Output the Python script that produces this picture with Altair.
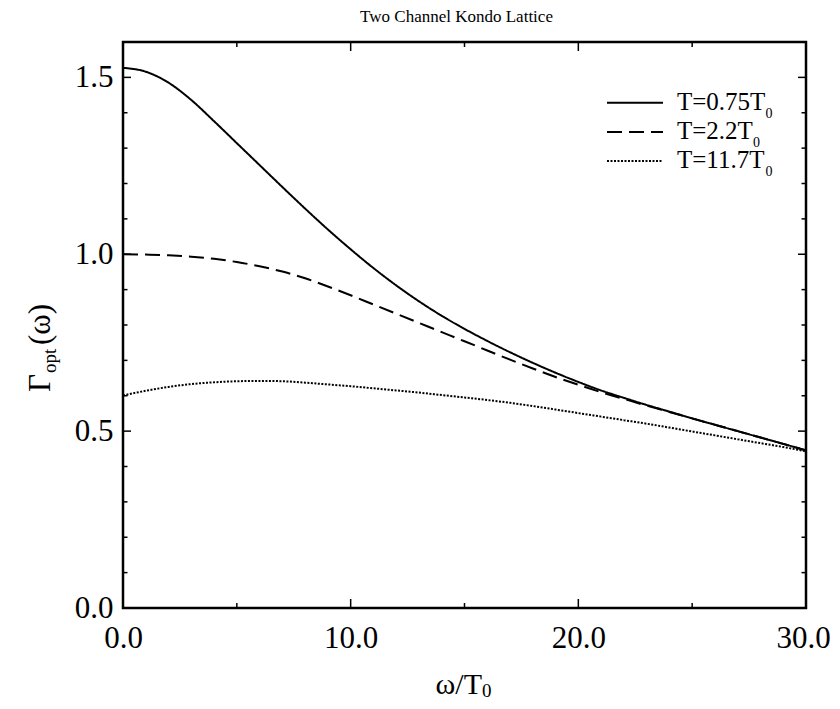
import altair as alt
import pandas as pd

# ---------------- data ----------------
omega = list(range(0, 31))
gamma_T075 = [1.527, 1.516, 1.485, 1.436, 1.376, 1.314, 1.252, 1.190, 1.129, 1.070,
              1.014, 0.961, 0.912, 0.867, 0.826, 0.789, 0.755, 0.723, 0.693, 0.665,
              0.639, 0.615, 0.594, 0.574, 0.555, 0.536, 0.518, 0.500, 0.482, 0.464, 0.446]
gamma_T22 = [1.000, 0.999, 0.997, 0.993, 0.987, 0.978, 0.966, 0.951, 0.932, 0.909,
             0.884, 0.858, 0.832, 0.806, 0.780, 0.754, 0.728, 0.702, 0.677, 0.653,
             0.631, 0.610, 0.591, 0.572, 0.554, 0.536, 0.518, 0.500, 0.482, 0.464, 0.445]
gamma_T117 = [0.601, 0.614, 0.625, 0.633, 0.638, 0.641, 0.642, 0.641, 0.637, 0.632,
              0.627, 0.621, 0.615, 0.609, 0.602, 0.595, 0.588, 0.580, 0.571, 0.561,
              0.551, 0.541, 0.531, 0.521, 0.510, 0.499, 0.488, 0.477, 0.466, 0.455, 0.443]
temps = ["0.75", "2.2", "11.7"]

x_major = [0, 10, 20, 30]
x_minor = [5, 15, 25]
y_major = [0.0, 0.5, 1.0, 1.5]
y_minor = [0.1, 0.2, 0.3, 0.4, 0.6, 0.7, 0.8, 0.9, 1.1, 1.2, 1.3, 1.4]

title_text = "Two Channel Kondo Lattice"

# ---------------- layout / style ----------------
W, H = 683, 566
FONT = "Liberation Serif"
dash_range = [[1, 0], [15, 7], [2, 1.5]]

rows = []
for t, gs in zip(temps, [gamma_T075, gamma_T22, gamma_T117]):
    for w, g in zip(omega, gs):
        rows.append({"w": w, "g": g, "T": t})
df = pd.DataFrame(rows)

xs = alt.Scale(domain=[0, 30], nice=False, zero=False)
ys = alt.Scale(domain=[0, 1.6], nice=False, zero=False)

ax_common = dict(format=".1f", ticks=False, tickSize=0, domain=False, grid=False,
                 labelFont=FONT, labelFontSize=31, labelColor="black", title=None,
                 labelFlush=False, labelOverlap=False)
x_axis = alt.Axis(values=x_major, labelPadding=15,
                  labelOffset={"condition": {"test": "datum.value >= 30", "value": -3}, "value": 0},
                  **ax_common)
y_axis = alt.Axis(values=y_major, labelPadding=10, **ax_common)

curves = alt.Chart(df).mark_line(color="black", strokeWidth=2, interpolate="monotone").encode(
    x=alt.X("w:Q", scale=xs, axis=x_axis, title=None),
    y=alt.Y("g:Q", scale=ys, axis=y_axis, title=None),
    strokeDash=alt.StrokeDash("T:N", scale=alt.Scale(domain=temps, range=dash_range), legend=None),
    detail="T:N",
)

layers = [curves]

def xticks(vals, length):
    d = pd.DataFrame({"w": vals})
    base = alt.Chart(d).mark_rule(color="black", strokeWidth=1.5)
    enc_x = alt.X("w:Q", scale=xs, axis=x_axis, title=None)
    bot = base.encode(x=enc_x, y=alt.value(H), y2=alt.value(H - length))
    top = base.encode(x=enc_x, y=alt.value(0), y2=alt.value(length))
    return [bot, top]

def yticks(vals, length):
    d = pd.DataFrame({"g": vals})
    base = alt.Chart(d).mark_rule(color="black", strokeWidth=1.5)
    enc_y = alt.Y("g:Q", scale=ys, axis=y_axis, title=None)
    left = base.encode(y=enc_y, x=alt.value(0), x2=alt.value(length))
    right = base.encode(y=enc_y, x=alt.value(W), x2=alt.value(W - length))
    return [left, right]

layers += xticks(x_major, 9) + xticks(x_minor, 5) + yticks(y_major, 8) + yticks(y_minor, 4.5)

one = pd.DataFrame({"k": [0]})

def txt(s, x, y, size, align="left", angle=0):
    kw = dict(font=FONT, fontSize=size, align=align, baseline="alphabetic", color="black")
    if angle:
        kw["angle"] = angle
    return alt.Chart(one).mark_text(**kw).encode(
        x=alt.value(x), y=alt.value(y), text=alt.value(s))

# title
layers.append(txt(title_text, W / 2 - 8, -20, 17, align="center"))
# x-axis title  w/T_0
layers.append(txt("ω/T", 359, 652, 30, align="right"))
layers.append(txt("0", 359, 655, 19))
# y-axis title  Gamma_opt(w), rotated
layers.append(txt("Γ", -73, 350, 31, angle=270))
layers.append(txt("opt", -67, 331, 19, angle=270))
layers.append(txt("(ω)", -73, 303, 31, angle=270))

# legend
cw = {"T": 0.611, "=": 0.564, ".": 0.25}
for i, t in enumerate(temps):
    ly = 60.7 + 29.2 * i
    layers.append(
        alt.Chart(one).mark_rule(color="black", strokeWidth=2, strokeDash=dash_range[i]).encode(
            x=alt.value(484), x2=alt.value(540), y=alt.value(ly)))
    label = f"T={t}T"
    layers.append(txt(label, 554, ly + 7.3, 25))
    wdt = sum(cw.get(c, 0.5) for c in label) * 25
    layers.append(txt("0", 554 + wdt, ly + 15.3, 14))

chart = alt.layer(*layers).properties(
    width=W, height=H,
    padding={"left": 115, "top": 34, "right": 26, "bottom": 93},
    autosize=alt.AutoSizeParams(type="none"),
).configure_view(stroke="black", strokeWidth=2.5)

chart.save("out.html", embed_options={"renderer": "svg", "actions": False})
